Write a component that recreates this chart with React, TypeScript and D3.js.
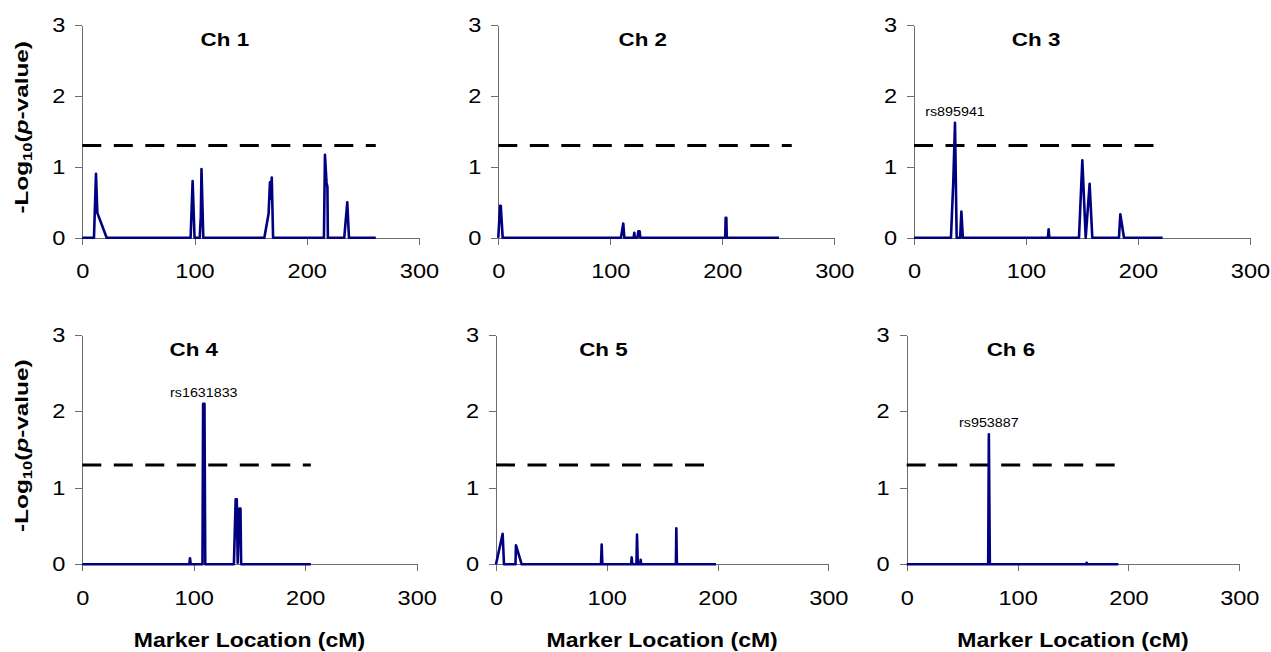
import React, { useEffect, useRef } from "react";
import * as d3 from "d3";

// [marker location (cM), -log10(p)]
const ch1: [number, number][] = [
  [0, 0], [10.4, 0], [12.2, 0.9], [13.4, 0.35], [21.7, 0], [96.5, 0], [98.3, 0.8], [100, 0],
  [104.6, 0], [105.6, 0.3], [106.2, 0.97], [107.8, 0], [162.2, 0], [166, 0.34], [167.2, 0.78],
  [168, 0.55], [168.8, 0.85], [170, 0], [215.3, 0], [216.2, 1.17], [217.6, 0.78], [218.4, 0.72],
  [218.8, 0], [233.4, 0], [236.1, 0.5], [237.6, 0], [261.5, 0],
];
const ch2: [number, number][] = [
  [0, 0], [1.6, 0.45], [2.2, 0.45], [3.9, 0], [109.5, 0], [111.6, 0.2], [112.5, 0], [120.8, 0],
  [121.4, 0.07], [122, 0], [124.3, 0], [125, 0.09], [126.2, 0.09], [126.8, 0], [202.6, 0],
  [203, 0.28], [203.6, 0.28], [204, 0], [250.6, 0],
];
const ch3: [number, number][] = [
  [0, 0], [33, 0], [35.1, 0.8], [36.6, 1.62], [38.1, 0], [41.2, 0], [42.3, 0.37], [43.6, 0],
  [119.6, 0], [120.2, 0.12], [120.8, 0], [147.3, 0], [150.3, 1.09], [153.3, 0], [156.8, 0.76],
  [159.2, 0], [183, 0], [184.2, 0.33], [187.5, 0], [222, 0],
];
const ch4: [number, number][] = [
  [0, 0], [96, 0], [96.6, 0.08], [97.3, 0], [107.8, 0], [108.4, 2.1], [109.6, 2.1], [110.3, 0],
  [136, 0], [137.6, 0.85], [138.6, 0.85], [139.4, 0.02], [141, 0.73], [141.9, 0.73], [142.5, 0],
  [205, 0],
];
const ch5: [number, number][] = [
  [0, 0], [6, 0.4], [7.2, 0], [17.6, 0], [18, 0.25], [23.2, 0], [94.8, 0], [95.4, 0.26], [96, 0],
  [122, 0], [122.5, 0.09], [123, 0], [126.8, 0], [127.3, 0.39], [128, 0], [130.2, 0], [130.6, 0.06],
  [131, 0], [162.4, 0], [162.8, 0.47], [163.3, 0], [198.6, 0],
];
const ch6: [number, number][] = [
  [0, 0], [73.5, 0], [74.1, 1.7], [75, 0], [161.8, 0], [162.3, 0.02], [162.8, 0], [190.9, 0],
];

const chromNames = ["Ch 1", "Ch 2", "Ch 3", "Ch 4", "Ch 5", "Ch 6"];
const chromData = [ch1, ch2, ch3, ch4, ch5, ch6];
const chromLength = [261.5, 262, 222, 205, 198.5, 191];
const threshold = 1.3; // -log10(0.05)

const snpNames = ["rs895941", "rs1631833", "rs953887"];
const snpChrom = [3, 4, 6];
const snpPos = [36.6, 109, 74.1];
const snpVal = [1.62, 2.1, 1.7];

const xTicks = [0, 100, 200, 300];
const yTicks = [0, 1, 2, 3];

// plot boxes in page pixels
const layout = [
  { left: 82.3, right: 419, top: 25, bottom: 237.7, titleX: 127 },
  { left: 498.3, right: 834.3, top: 25, bottom: 237.7, titleX: 129 },
  { left: 914, right: 1250, top: 25, bottom: 237.7, titleX: 109 },
  { left: 82.3, right: 416.7, top: 335, bottom: 564.3, titleX: 100 },
  { left: 496, right: 828.3, top: 335, bottom: 564.3, titleX: 97 },
  { left: 906.7, right: 1239.3, top: 335, bottom: 564.3, titleX: 94 },
];

const FONT = "'Liberation Sans', Arial, Helvetica, sans-serif";
const NAVY = "#000080";
const AXIS = "#6e6e6e";
const TICK_SX = 1.18;

export default function App() {
  const ref = useRef<SVGSVGElement>(null);

  useEffect(() => {
    const svg = d3.select(ref.current);
    svg.selectAll("*").remove();

    chromData.forEach((data, i) => {
      const L = layout[i];
      const x = d3.scaleLinear().domain([0, 300]).range([L.left, L.right]);
      const y = d3.scaleLinear().domain([0, 3]).range([L.bottom, L.top]);
      const g = svg.append("g");

      // axes
      const ax = g
        .append("g")
        .attr("transform", `translate(0,${L.bottom})`)
        .call(d3.axisBottom(x).tickValues(xTicks).tickSize(7).tickSizeOuter(0).tickPadding(19.5).tickFormat(d3.format("d")));
      const ay = g
        .append("g")
        .attr("transform", `translate(${L.left},0)`)
        .call(d3.axisLeft(y).tickValues(yTicks).tickSize(7).tickSizeOuter(0).tickPadding(10).tickFormat(d3.format("d")));
      [ax, ay].forEach((a) => {
        a.attr("font-family", FONT).attr("font-size", 20);
        a.selectAll("path, line").attr("stroke", AXIS).attr("stroke-width", 1).attr("shape-rendering", "crispEdges");
        a.selectAll("text").attr("fill", "#000");
      });
      ax.selectAll("text").attr("transform", `scale(${TICK_SX},1)`);
      ay.selectAll("text").attr("x", -17 / TICK_SX).attr("transform", `scale(${TICK_SX},1)`);

      // threshold line
      g.append("line")
        .attr("x1", x(0))
        .attr("x2", x(chromLength[i]))
        .attr("y1", y(threshold))
        .attr("y2", y(threshold))
        .attr("stroke", "#000")
        .attr("stroke-width", 3)
        .attr("stroke-dasharray", "19 12.5");

      // association line
      const line = d3
        .line<[number, number]>()
        .x((d) => x(d[0]))
        .y((d) => y(d[1]));
      g.append("path")
        .datum(data)
        .attr("d", line)
        .attr("fill", "none")
        .attr("stroke", NAVY)
        .attr("stroke-width", 2.6)
        .attr("stroke-linejoin", "round");

      // panel title
      g.append("text")
        .attr("transform", `translate(${x(L.titleX)},${L.top + 21}) scale(1.28,1)`)
        .attr("text-anchor", "middle")
        .attr("font-family", FONT)
        .attr("font-weight", "bold")
        .attr("font-size", 17.5)
        .text(chromNames[i]);

      // SNP labels
      snpNames.forEach((name, k) => {
        if (snpChrom[k] !== i + 1) return;
        g.append("text")
          .attr("transform", `translate(${x(snpPos[k])},${y(snpVal[k]) - 7}) scale(1.1,1)`)
          .attr("text-anchor", "middle")
          .attr("font-family", FONT)
          .attr("font-size", 13)
          .text(name);
      });

      // y title on left column
      if (i % 3 === 0) {
        const yt = g
          .append("text")
          .attr("transform", `translate(27.5,${(L.top + L.bottom) / 2 - 4}) rotate(-90) scale(1.28,1)`)
          .attr("text-anchor", "middle")
          .attr("font-family", FONT)
          .attr("font-weight", "bold")
          .attr("font-size", 19);
        yt.append("tspan").text("-Log");
        yt.append("tspan").attr("font-size", 13).attr("dy", 4).text("10");
        yt.append("tspan").attr("dy", -4).text("(");
        yt.append("tspan").attr("font-style", "italic").text("p");
        yt.append("tspan").text("-value)");
      }

      // x title on bottom row
      if (i >= 3) {
        g.append("text")
          .attr("transform", `translate(${(L.left + L.right) / 2},646.5) scale(1.18,1)`)
          .attr("text-anchor", "middle")
          .attr("font-family", FONT)
          .attr("font-weight", "bold")
          .attr("font-size", 19.5)
          .text("Marker Location (cM)");
      }
    });
  }, []);

  return (
    <svg
      ref={ref}
      width={1271}
      height={652}
      style={{ position: "absolute", left: 0, top: 0, background: "#fff" }}
    />
  );
}
